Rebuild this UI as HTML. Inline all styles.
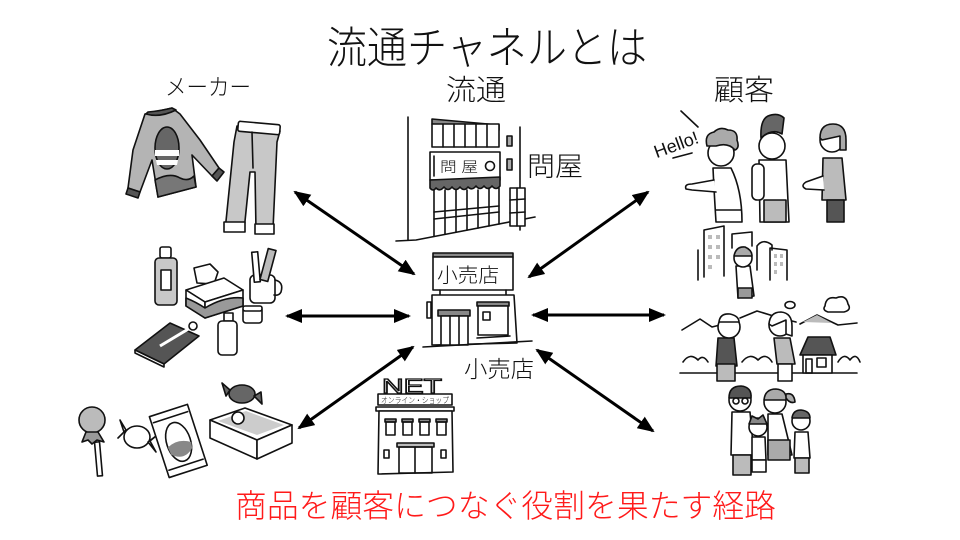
<!DOCTYPE html>
<html><head><meta charset="utf-8">
<style>
html,body{margin:0;padding:0;background:#fff;}
body{width:960px;height:540px;overflow:hidden;}
svg{display:block;}
.t{font-family:"Liberation Sans","Noto Sans CJK JP",sans-serif;fill:#111;font-weight:300;}
.ln{fill:none;stroke:#111;stroke-width:1.6;stroke-linejoin:round;stroke-linecap:round;}
.o{stroke:#111;stroke-width:1.6;stroke-linejoin:round;stroke-linecap:round;}
</style></head>
<body>
<svg width="960" height="540" viewBox="0 0 960 540" xmlns="http://www.w3.org/2000/svg">
<defs>
<marker id="ah" markerUnits="userSpaceOnUse" markerWidth="17" markerHeight="14" refX="15" refY="7" orient="auto-start-reverse">
<path d="M0,0 L17,7 L0,14 Z" fill="#000"/>
</marker>
</defs>
<rect width="960" height="540" fill="#fff"/>

<!-- Titles -->
<text class="t" x="327" y="63" font-size="44" textLength="320" lengthAdjust="spacingAndGlyphs">流通チャネルとは</text>
<text class="t" x="446" y="100" font-size="29" textLength="60" lengthAdjust="spacingAndGlyphs">流通</text>
<text class="t" x="165" y="95" font-size="23" textLength="86" lengthAdjust="spacingAndGlyphs">メーカー</text>
<text class="t" x="714" y="100" font-size="29" textLength="60" lengthAdjust="spacingAndGlyphs">顧客</text>
<text class="t" x="527" y="176" font-size="27" textLength="56" lengthAdjust="spacingAndGlyphs">問屋</text>
<text class="t" x="464" y="377" font-size="23" textLength="70" lengthAdjust="spacingAndGlyphs">小売店</text>
<text x="235" y="517" font-size="32" textLength="541" lengthAdjust="spacingAndGlyphs" style="font-family:'Liberation Sans','Noto Sans CJK JP',sans-serif;fill:#ff1a1a;font-weight:300;">商品を顧客につなぐ役割を果たす経路</text>

<!-- Arrows -->
<g stroke="#000" stroke-width="3" marker-start="url(#ah)" marker-end="url(#ah)">
<line x1="295" y1="192" x2="414" y2="274"/>
<line x1="287" y1="316" x2="409" y2="316"/>
<line x1="299" y1="428" x2="413" y2="347"/>
<line x1="648" y1="192" x2="529" y2="277"/>
<line x1="533" y1="315" x2="664" y2="315"/>
<line x1="537" y1="350" x2="653" y2="431"/>
</g>

<!-- 問屋 building -->
<g>
<line class="ln" x1="408" y1="117" x2="408" y2="240"/>
<polyline class="ln" points="396,241 416,240 535,217"/>
<polygon points="432,119 499,125 499,130 432,124" fill="#888" class="o"/>
<rect x="432" y="124" width="67" height="23" fill="#fff" class="o"/>
<g class="ln"><line x1="443" y1="124" x2="443" y2="147"/><line x1="454" y1="124" x2="454" y2="147"/><line x1="465" y1="124" x2="465" y2="147"/><line x1="476" y1="124" x2="476" y2="147"/><line x1="487" y1="124" x2="487" y2="147"/></g>
<rect x="430" y="152" width="70" height="28" fill="#fff" class="o"/>
<line class="ln" x1="434" y1="156" x2="434" y2="176"/>
<text class="t" x="440" y="172" font-size="14" textLength="38" lengthAdjust="spacingAndGlyphs">問 屋</text>
<circle cx="490" cy="166" r="4.5" class="ln"/>
<path d="M430,180 L500,177 L500,186 Q496,191 492,186 Q488,191 484,186 Q480,191 476,186 Q472,191 468,187 Q464,192 460,187 Q456,192 452,187 Q448,192 444,187 Q440,192 436,188 Q433,192 430,188 Z" fill="#666" class="o"/>
<g class="ln">
<line x1="434" y1="190" x2="434" y2="236"/><line x1="445" y1="190" x2="445" y2="234"/><line x1="456" y1="190" x2="456" y2="232"/><line x1="467" y1="190" x2="467" y2="230"/><line x1="478" y1="190" x2="478" y2="228"/><line x1="489" y1="188" x2="489" y2="226"/><line x1="499" y1="188" x2="499" y2="224"/>
<line x1="434" y1="212" x2="499" y2="206"/><line x1="434" y1="219" x2="499" y2="212"/>
<line x1="520" y1="127" x2="520" y2="230"/>
</g>
<rect x="507" y="136" width="5" height="10" fill="#aaa" class="o"/>
<rect x="507" y="159" width="5" height="11" fill="#aaa" class="o"/>
<rect x="510" y="188" width="15" height="38" fill="#fff" class="o"/>
<g class="ln"><line x1="510" y1="200" x2="525" y2="199"/><line x1="510" y1="213" x2="525" y2="212"/><line x1="517" y1="188" x2="517" y2="226"/></g>
</g>

<!-- 小売店 building -->
<g>
<rect x="433" y="253" width="80" height="4" fill="#888" class="o"/>
<rect x="433" y="257" width="80" height="33" fill="#fff" class="o"/>
<text class="t" x="437" y="282" font-size="20" textLength="62" lengthAdjust="spacingAndGlyphs">小売店</text>
<line class="ln" x1="440" y1="290" x2="440" y2="295"/><line class="ln" x1="506" y1="290" x2="506" y2="295"/>
<polygon points="432,295 514,295 517,343 432,345" fill="#fff" class="o"/>
<rect x="427" y="302" width="4" height="16" fill="#fff" class="o"/>
<rect x="438" y="310" width="32" height="6" fill="#888" class="o"/>
<rect x="441" y="316" width="27" height="29" fill="#fff" class="o"/>
<line class="ln" x1="450" y1="316" x2="450" y2="345"/><line class="ln" x1="459" y1="316" x2="459" y2="345"/>
<rect x="477" y="302" width="32" height="4" fill="#888" class="o"/>
<rect x="478" y="306" width="30" height="29" fill="#fff" class="o"/>
<rect x="483" y="312" width="7" height="8" class="ln"/>
<line class="ln" x1="477" y1="338" x2="510" y2="336"/>
<line class="ln" x1="423" y1="347" x2="532" y2="341"/>
</g>

<!-- NET building -->
<g>
<text x="382" y="393" font-size="20" textLength="60" lengthAdjust="spacingAndGlyphs" style="font-family:'Liberation Sans',sans-serif;fill:#fff;stroke:#111;stroke-width:1.2;">NET</text>
<rect x="378" y="394" width="74" height="11" fill="#fff" class="o"/>
<text class="t" x="381" y="403" font-size="8" textLength="68" lengthAdjust="spacingAndGlyphs">オンライン・ショップ</text>
<rect x="376" y="407" width="78" height="4" fill="#fff" class="o"/>
<polygon points="379,411 452,411 453,472 378,474" fill="#fff" class="o"/>
<g>
<rect x="385" y="419" width="11" height="3" fill="#888" class="o"/><rect x="386" y="422" width="9" height="13" class="ln"/>
<rect x="402" y="419" width="11" height="3" fill="#888" class="o"/><rect x="403" y="422" width="9" height="13" class="ln"/>
<rect x="419" y="419" width="11" height="3" fill="#888" class="o"/><rect x="420" y="422" width="9" height="13" class="ln"/>
<rect x="436" y="419" width="11" height="3" fill="#888" class="o"/><rect x="437" y="422" width="9" height="13" class="ln"/>
</g>
<rect x="397" y="443" width="37" height="4" fill="#bbb" class="o"/>
<rect x="399" y="447" width="33" height="26" class="ln"/>
<line class="ln" x1="415" y1="447" x2="415" y2="473"/>
<rect x="384" y="450" width="5" height="8" class="ln"/><rect x="441" y="450" width="5" height="8" class="ln"/>
</g>

<!-- Sweater -->
<g>
<path d="M145,114 L172,108 L180,114 L200,140 L219,168 L212,176 L192,155 L196,187 L158,197 L152,160 L140,192 L128,188 L133,150 Z" fill="#b4b4b4" class="o"/>
<path d="M146,114 Q160,118 176,110 L172,108 Q160,111 148,112 Z" fill="#555" class="o"/>
<ellipse cx="167" cy="148" rx="12" ry="21" fill="#666" class="o"/>
<path d="M155,150 L179,150 L179,156 L155,156 Z M156,160 L178,160 L177,165 L157,165 Z" fill="#fff"/>
<path d="M155,180 Q170,172 180,178 Q188,182 194,176 L196,187 L158,197 Z" fill="#777" class="o"/>
<polygon points="128,188 140,192 138,198 126,194" fill="#555" class="o"/>
<polygon points="212,176 219,168 224,172 217,181" fill="#555" class="o"/>
</g>
<!-- Pants -->
<g>
<path d="M237,126 L280,131 L277,142 L273,229 L256,231 L255,172 L250,172 L244,231 L225,231 L234,142 Z" fill="#c8c8c8" class="o"/>
<rect x="238" y="123" width="42" height="10" rx="2" fill="#fff" class="o" transform="rotate(5 259 128)"/>
<rect x="224" y="222" width="21" height="10" fill="#fff" class="o"/>
<rect x="255" y="224" width="19" height="10" fill="#fff" class="o"/>
<line class="ln" x1="252" y1="132" x2="253" y2="168"/>
</g>

<!-- Cosmetics -->
<g>
<rect x="160" y="247" width="11" height="11" rx="2" fill="#fff" class="o"/>
<rect x="155" y="258" width="22" height="47" rx="4" fill="#c8c8c8" class="o"/>
<rect x="161" y="270" width="10" height="20" fill="#fff" class="o"/>
<path d="M197,283 L194,268 L210,264 L218,272 L214,284 Z" fill="#fff" class="o"/>
<polygon points="186,290 224,278 243,290 205,302" fill="#fff" class="o"/>
<polygon points="186,290 205,302 205,318 186,306" fill="#fff" class="o"/>
<polygon points="205,302 243,290 243,306 205,318" fill="#fff" class="o"/>
<path d="M186,298 Q196,302 205,308 Q225,296 243,298 L243,306 L205,318 L186,306 Z" fill="#999" class="o"/>
<rect x="250" y="275" width="25" height="28" rx="5" fill="#fff" class="o"/>
<path d="M275,280 Q284,282 281,292 Q279,296 274,295" class="ln"/>
<rect x="253" y="252" width="6" height="30" fill="#fff" class="o" transform="rotate(-5 256 267)"/>
<rect x="264" y="249" width="8" height="32" fill="#bbb" class="o" transform="rotate(15 268 265)"/>
<rect x="243" y="307" width="19" height="16" rx="3" fill="#fff" class="o"/>
<rect x="243" y="306" width="19" height="5" rx="2" fill="#fff" class="o"/>
<rect x="224" y="313" width="9" height="8" fill="#fff" class="o"/>
<rect x="218" y="321" width="19" height="34" rx="4" fill="#fff" class="o"/>
<polygon points="135,350 170,323 199,336 164,364" fill="#555" class="o"/>
<polygon points="135,350 164,364 164,367 135,353" fill="#fff" class="o"/>
<line x1="160" y1="346" x2="190" y2="328" stroke="#fff" stroke-width="3"/>
<circle cx="193" cy="326" r="4" fill="#fff" class="o"/>
</g>

<!-- Sweets -->
<g>
<circle cx="92" cy="420" r="13" fill="#bbb" class="o"/>
<path d="M86,432 L98,432 L104,442 L97,440 L92,444 L88,440 L82,442 Z" fill="#999" class="o"/>
<rect x="96" y="442" width="5" height="34" fill="#fff" class="o" transform="rotate(-5 98 459)"/>
<ellipse cx="137" cy="437" rx="13" ry="11" fill="#fff" class="o"/>
<path d="M126,430 L120,420 L124,432 L118,438 Z M148,442 L156,452 L150,441 L156,436 Z" fill="#fff" class="o"/>
<g transform="rotate(-18 178 440)">
<rect x="158" y="409" width="40" height="64" fill="#fff" class="o"/>
<ellipse cx="178" cy="442" rx="12" ry="20" fill="#fff" class="o"/>
<path d="M166,444 Q178,438 190,446 L189,452 Q178,462 167,452 Z" fill="#888"/>
<line class="ln" x1="160" y1="416" x2="196" y2="416"/><line class="ln" x1="160" y1="466" x2="196" y2="466"/>
</g>
<ellipse cx="242" cy="394" rx="13" ry="9" fill="#666" class="o"/>
<path d="M230,390 L222,383 L226,396 Z M254,396 L262,404 L261,392 Z" fill="#666" class="o"/>
<polygon points="210,420 245,408 292,425 257,440" fill="#fff" class="o"/>
<polygon points="210,420 257,440 257,459 210,438" fill="#fff" class="o"/>
<polygon points="257,440 292,425 292,443 257,459" fill="#fff" class="o"/>
<path d="M218,421 L246,411 L284,425 L257,435 Z" fill="#ccc"/>
<circle cx="238" cy="418" r="6" fill="#fff" class="o"/>
</g>

<!-- Customers: group 1 -->
<g>
<text class="t" x="652" y="152" font-size="18" transform="rotate(-20 672 142)" style="font-family:'Liberation Sans',sans-serif;">Hello!</text>
<line class="ln" x1="681" y1="111" x2="698" y2="127"/>
<line class="ln" x1="673" y1="158" x2="692" y2="153"/>
<path d="M713,168 L731,168 Q742,190 742,222 L716,222 Q714,190 713,168 Z" fill="#fff" class="o"/>
<path d="M714,180 L692,184 Q684,184 686,189 L692,190 L716,192" fill="#fff" class="o"/>
<circle cx="721" cy="153" r="13" fill="#fff" class="o"/>
<path d="M707,146 Q704,134 714,132 Q720,126 728,130 Q738,130 737,140 Q740,148 735,150 Q728,142 716,146 Z" fill="#aaa" class="o"/>
<path d="M716,210 L741,210" class="ln"/>
<path d="M759,160 L786,160 L789,222 L760,222 Z" fill="#fff" class="o"/>
<rect x="764" y="200" width="22" height="22" fill="#bbb" class="o"/>
<rect x="752" y="164" width="12" height="36" rx="5" fill="#fff" class="o"/>
<circle cx="772" cy="146" r="13" fill="#fff" class="o"/>
<path d="M761,138 Q760,120 768,116 Q778,112 784,118 L782,134 Q772,128 761,138 Z" fill="#666" class="o"/>
<path d="M823,158 L842,158 L846,200 L822,200 Z" fill="#bbb" class="o"/>
<rect x="827" y="200" width="17" height="22" fill="#555" class="o"/>
<path d="M823,176 L806,182 Q800,186 806,189 L824,190" fill="#fff" class="o"/>
<circle cx="832" cy="140" r="12" fill="#fff" class="o"/>
<path d="M820,138 Q820,124 833,124 Q846,124 846,140 L846,150 L840,150 L840,136 L822,140 Z" fill="#aaa" class="o"/>
</g>

<!-- City -->
<g>
<path d="M698,280 L698,250 M704,277 L704,230 L724,226 L724,276" class="ln"/>
<g fill="#bbb"><rect x="708" y="235" width="4" height="4"/><rect x="716" y="235" width="4" height="4"/><rect x="708" y="245" width="4" height="4"/><rect x="716" y="245" width="4" height="4"/><rect x="708" y="255" width="4" height="4"/><rect x="716" y="255" width="4" height="4"/><rect x="708" y="265" width="4" height="4"/></g>
<path d="M732,248 L732,234 L752,232 L752,246" class="ln"/>
<path d="M757,270 L757,246 Q763,238 772,245 L772,250" class="ln"/>
<path d="M770,280 L770,248 L787,250 L787,280" class="ln"/>
<g fill="#bbb"><rect x="774" y="254" width="3" height="4"/><rect x="780" y="254" width="3" height="4"/><rect x="774" y="262" width="3" height="4"/><rect x="780" y="262" width="3" height="4"/><rect x="774" y="270" width="3" height="4"/></g>
<path d="M736,266 L750,266 L754,296 L738,298 Z" fill="#fff" class="o"/>
<rect x="738" y="288" width="14" height="10" fill="#999" class="o"/>
<circle cx="743" cy="258" r="9" fill="#fff" class="o"/>
<path d="M734,256 Q736,246 745,247 Q752,250 752,256 Z" fill="#aaa" class="o"/>
</g>

<!-- Landscape -->
<g>
<path d="M682,330 L700,319 L712,327 L732,322 M740,318 L757,311 L780,318 L796,322 M800,324 L817,315 L838,325 L857,323" class="ln"/>
<path d="M803,322 L817,315 L832,323 Z" fill="#bbb"/>
<path d="M825,306 Q826,296 836,298 Q846,294 848,304 Q852,310 844,312 L828,312 Q822,310 825,306 Z" class="ln"/>
<ellipse cx="790" cy="305" rx="5" ry="3.5" class="ln"/>
<path d="M683,362 Q690,352 698,360 Q703,354 708,362 M742,362 Q750,352 758,360 Q766,352 772,362 M838,362 Q844,352 850,360 Q856,352 860,362" class="ln"/>
<line class="ln" x1="680" y1="373" x2="857" y2="373"/>
<path d="M718,338 L734,338 L737,366 L716,366 Z" fill="#555" class="o"/>
<rect x="717" y="364" width="18" height="17" fill="#bbb" class="o"/>
<circle cx="729" cy="327" r="11" fill="#fff" class="o"/>
<path d="M719,322 Q720,313 730,314 Q739,316 739,322 Z" fill="#fff" class="o"/>
<path d="M774,338 L790,338 L795,364 L777,364 Z" fill="#bbb" class="o"/>
<rect x="778" y="364" width="14" height="17" fill="#fff" class="o"/>
<circle cx="780" cy="325" r="11" fill="#fff" class="o"/>
<path d="M769,324 Q770,312 781,312 Q792,313 792,326 L792,336 L786,334 L786,320 L772,326 Z" fill="#fff" class="o"/>
<polygon points="800,355 808,337 830,337 836,355" fill="#555" class="o"/>
<rect x="803" y="355" width="29" height="18" fill="#fff" class="o"/>
<rect x="817" y="358" width="9" height="9" class="ln"/>
<rect x="806" y="359" width="6" height="14" class="ln"/>
</g>

<!-- Family -->
<g>
<path d="M732,412 L750,412 L754,455 L731,455 Z" fill="#fff" class="o"/>
<rect x="733" y="455" width="18" height="20" fill="#bbb" class="o"/>
<circle cx="740" cy="400" r="11" fill="#fff" class="o"/>
<path d="M729,398 Q729,386 741,386 Q752,387 751,398 Z" fill="#555" class="o"/>
<circle cx="736" cy="401" r="3" class="ln"/><circle cx="745" cy="401" r="3" class="ln"/>
<path d="M768,414 L782,414 L792,455 L768,455 Z" fill="#fff" class="o"/>
<rect x="768" y="440" width="22" height="20" fill="#aaa" class="o"/>
<circle cx="775" cy="402" r="11" fill="#fff" class="o"/>
<path d="M764,400 Q765,389 776,389 Q787,390 786,400 Z M786,394 Q794,392 795,402 Q790,404 786,398 Z" fill="#aaa" class="o"/>
<path d="M752,437 L765,437 L766,460 L752,460 Z" fill="#fff" class="o"/>
<rect x="752" y="460" width="14" height="12" fill="#fff" class="o"/>
<circle cx="758" cy="427" r="9" fill="#fff" class="o"/>
<path d="M749,424 L752,416 L758,419 L763,415 L767,424 Z" fill="#888" class="o"/>
<path d="M795,432 L808,432 L810,458 L794,458 Z" fill="#fff" class="o"/>
<rect x="795" y="458" width="14" height="15" fill="#bbb" class="o"/>
<circle cx="801" cy="421" r="9" fill="#fff" class="o"/>
<path d="M792,418 Q793,410 801,410 Q810,411 810,418 Z" fill="#666" class="o"/>
</g>
</svg>
</body></html>
